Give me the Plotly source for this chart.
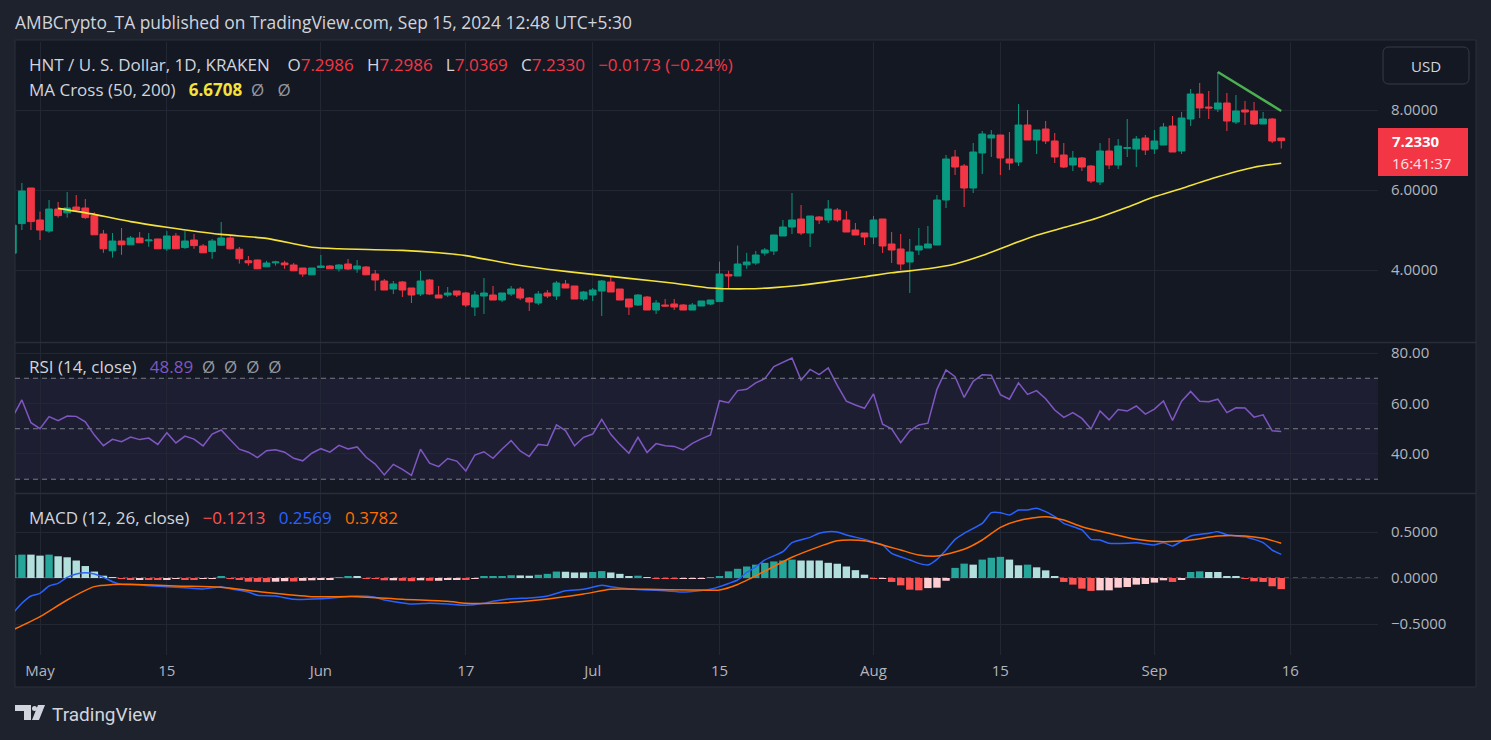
import plotly.graph_objects as go
import pandas as pd

# ---------------- DATA ----------------
dates = pd.date_range("2024-04-28", "2024-09-15", freq="D")

opens = [4.42, 5.16, 6.05, 5.25, 4.975, 5.525, 5.43, 5.575, 5.55, 5.36, 4.9, 4.48, 4.725, 4.63, 4.8, 4.73, 4.775, 4.53, 4.85, 4.56, 4.75, 4.6, 4.46, 4.62, 4.8, 4.52, 4.23, 4.25, 4.08, 4.18, 4.175, 4.125, 4.05, 3.88, 4.06, 4.1, 4.03, 4.15, 4.025, 4.075, 3.9,
         3.725, 3.525, 3.7, 3.55, 3.4, 3.75, 3.375, 3.375, 3.475, 3.425, 3.075, 3.35, 3.375, 3.25, 3.4, 3.525, 3.3, 3.175, 3.425, 3.35, 3.65, 3.6, 3.275, 3.375, 3.475, 3.7, 3.525, 3.275, 3.125, 3.325, 3.0, 3.125, 3.15, 3.125, 3.0, 3.1, 3.15,
         3.21, 3.89, 3.85, 4.13, 4.175, 4.425, 4.475, 4.85, 5.075, 5.275, 4.925, 5.325, 5.25, 5.5, 5.25, 5.0, 4.925, 4.825, 5.275, 4.65, 4.525, 4.2, 4.5, 4.55, 4.625,
         5.75, 6.825, 6.6, 6.05, 6.925, 7.3, 7.375, 6.775, 6.7, 7.625, 7.25, 7.525, 7.225, 6.875, 6.625, 6.8, 6.6, 6.2, 6.975, 6.625, 7.04, 7.025, 7.3,
         7.025, 7.125, 7.6, 6.975, 7.775, 8.4, 8.075, 8.025, 8.175, 7.7, 8.0, 7.975, 7.65, 7.775, 7.2986]
highs = [5.15, 6.175, 6.05, 5.46, 5.75, 5.7, 5.95, 5.875, 5.775, 5.44, 5.0, 4.925, 5.05, 4.85, 4.95, 4.925, 4.78, 4.975, 4.925, 4.975, 4.9, 4.65, 4.775, 5.2, 4.875, 4.575, 4.35, 4.26, 4.23, 4.23, 4.23, 4.175, 4.05, 4.05, 4.375, 4.125, 4.15, 4.275, 4.25, 4.1, 4.0,
         3.775, 3.725, 3.725, 3.55, 3.975, 3.775, 3.6, 3.575, 3.475, 3.45, 3.475, 3.8, 3.6, 3.425, 3.6, 3.575, 3.325, 3.475, 3.5, 3.725, 3.75, 3.6, 3.475, 3.55, 3.75, 3.825, 3.525, 3.275, 3.4, 3.35, 3.25, 3.275, 3.275, 3.15, 3.175, 3.225, 3.25,
         4.21, 3.98, 4.61, 4.43, 4.475, 4.55, 4.875, 5.25, 5.925, 5.625, 5.35, 5.35, 5.75, 5.55, 5.475, 5.175, 4.925, 5.35, 5.275, 4.95, 4.9, 4.775, 5.05, 5.1, 5.875,
         6.875, 7.0, 6.65, 7.175, 7.475, 7.5, 7.375, 7.45, 8.15, 8.0, 7.5, 7.725, 7.425, 7.175, 6.975, 6.825, 6.625, 7.175, 7.3, 7.275, 7.775, 7.35, 7.375,
         7.5, 7.675, 7.85, 7.95, 8.525, 8.675, 8.475, 8.95, 8.425, 8.375, 8.225, 8.2, 7.95, 7.8, 7.2986]
lows = [4.40, 5.0, 5.0, 4.75, 4.93, 5.31, 5.31, 5.46, 5.275, 4.88, 4.43, 4.31, 4.38, 4.63, 4.68, 4.58, 4.53, 4.48, 4.53, 4.53, 4.53, 4.43, 4.28, 4.6, 4.51, 4.16, 4.11, 4.03, 4.08, 4.11, 4.03, 3.98, 3.83, 3.88, 4.06, 4.03, 3.96, 4.0, 3.93, 3.88, 3.48,
        3.5, 3.4, 3.325, 3.175, 3.35, 3.375, 3.3, 3.325, 3.325, 3.075, 2.85, 2.9, 3.25, 3.2, 3.35, 3.25, 2.975, 3.125, 3.3, 3.25, 3.55, 3.275, 3.225, 3.225, 2.85, 3.45, 3.25, 2.875, 3.1, 3.0, 2.9, 3.075, 3.0, 3.0, 3.0, 3.1, 3.125,
        3.21, 3.53, 3.85, 4.03, 4.13, 4.36, 4.375, 4.85, 4.9, 4.875, 4.575, 5.15, 5.175, 5.2, 4.95, 4.875, 4.625, 4.65, 4.425, 4.175, 4.0, 3.425, 4.375, 4.55, 4.625,
        5.55, 6.375, 5.575, 5.925, 6.4, 6.825, 6.375, 6.5, 6.6, 7.25, 6.9, 7.15, 6.675, 6.55, 6.475, 6.475, 6.175, 6.125, 6.525, 6.525, 6.825, 6.575, 6.875,
        6.9, 7.125, 6.95, 6.9, 7.6, 7.8, 7.775, 7.95, 7.475, 7.65, 7.625, 7.625, 7.65, 7.175, 7.0369]
closes = [5.12, 5.975, 5.21, 5.0, 5.525, 5.36, 5.55, 5.5, 5.31, 4.88, 4.53, 4.725, 4.63, 4.8, 4.68, 4.75, 4.53, 4.85, 4.53, 4.725, 4.61, 4.43, 4.725, 4.8, 4.53, 4.28, 4.18, 4.03, 4.175, 4.2, 4.13, 3.98, 3.9, 4.05, 4.1, 4.03, 4.125, 4.025, 4.1, 3.88, 3.75,
          3.5, 3.65, 3.5, 3.375, 3.725, 3.4, 3.3, 3.425, 3.375, 3.125, 3.375, 3.425, 3.25, 3.425, 3.525, 3.3, 3.2, 3.4, 3.35, 3.675, 3.55, 3.275, 3.45, 3.5, 3.725, 3.45, 3.25, 3.075, 3.375, 3.0, 3.175, 3.1, 3.075, 3.0, 3.125, 3.225, 3.25,
          3.9, 3.85, 4.15, 4.2, 4.375, 4.5, 4.875, 5.075, 5.25, 4.925, 5.35, 5.25, 5.525, 5.25, 4.95, 4.875, 4.825, 5.25, 4.6, 4.5, 4.15, 4.45, 4.6, 4.65, 5.75,
          6.775, 6.575, 6.05, 6.95, 7.4, 7.375, 6.8, 6.675, 7.625, 7.25, 7.5, 7.225, 6.825, 6.575, 6.8, 6.575, 6.225, 6.975, 6.625, 7.1, 7.06, 7.275, 7.0,
          7.225, 7.575, 6.95, 7.8, 8.4, 8.05, 8.05, 8.175, 7.725, 7.975, 7.95, 7.65, 7.775, 7.225, 7.2330]

ma_dates = ["2024-05-03", "2024-05-07", "2024-05-11", "2024-05-15", "2024-05-21", "2024-05-26", "2024-05-31",
            "2024-06-03", "2024-06-10", "2024-06-14", "2024-06-17", "2024-06-22", "2024-06-26", "2024-07-01",
            "2024-07-05", "2024-07-10", "2024-07-14", "2024-07-18", "2024-07-21", "2024-07-24", "2024-07-27",
            "2024-07-31", "2024-08-03", "2024-08-07", "2024-08-10", "2024-08-13", "2024-08-16", "2024-08-19",
            "2024-08-22", "2024-08-25", "2024-08-29", "2024-09-01", "2024-09-04", "2024-09-08", "2024-09-12",
            "2024-09-15"]
ma_vals = [5.54, 5.39, 5.21, 5.07, 4.89, 4.79, 4.57,
           4.53, 4.49, 4.43, 4.36, 4.15, 4.02, 3.89,
           3.79, 3.67, 3.55, 3.53, 3.56, 3.62, 3.71,
           3.83, 3.93, 4.03, 4.15, 4.36, 4.62, 4.87,
           5.06, 5.25, 5.57, 5.83, 6.04, 6.33, 6.57,
           6.6708]

trend_dates = ["2024-09-08", "2024-09-15"]
trend_vals = [8.95, 7.975]

rsi = [54.8, 61.4, 52.4, 50.0, 54.8, 53.2, 55.0, 54.9, 52.7, 47.5, 43.3, 45.8, 44.9, 46.7, 45.7, 46.3, 43.8, 48.4, 44.4, 47.1,
       45.9, 43.2, 47.9, 49.5, 45.6, 41.9, 40.7, 38.6, 41.3, 41.7, 40.7, 38.3, 37.3, 40.3, 42.1, 40.7, 43.4, 42.0, 42.8, 38.7,
       36.0, 31.7, 35.9, 33.9, 31.5, 41.9, 36.4, 35.0, 38.2, 37.2, 33.3, 39.6, 40.9, 38.3, 42.0, 45.3, 41.2, 39.0, 43.8, 43.4,
       51.5, 49.3, 43.2, 46.6, 47.9, 53.7, 47.8, 43.8, 40.3, 46.6, 40.6, 44.1, 43.3, 43.0, 41.6, 44.2, 46.0,
       47.5,
       61.1, 60.3, 65.1, 65.6, 68.2, 69.8, 74.6, 76.4, 78.0, 69.3, 73.5, 71.4, 74.1, 67.2, 60.9, 59.4, 58.1,
       63.8, 51.8, 50.0, 44.5, 49.2, 51.5, 52.2, 65.6, 73.3, 70.6, 62.4, 68.8, 71.4, 71.2, 63.5, 61.7, 68.2, 63.6, 65.1, 61.9,
       57.4, 54.5, 56.4, 54.1, 49.9, 57.0, 53.5, 57.6, 57.0, 59.0, 55.8,
       57.8, 61.0, 53.3, 60.9, 64.8, 60.9, 60.7, 61.7, 56.4, 58.3, 58.2, 54.6, 55.5, 49.2, 48.89]

hist = [0.25, 0.254, 0.254, 0.243, 0.254, 0.236, 0.225, 0.19, 0.13, 0.07, 0.025, 0.007, -0.007, -0.015, -0.012, -0.015,
        -0.02, -0.012, -0.01, -0.014, -0.016, -0.01, -0.005, 0.012, -0.005, -0.02, -0.04, -0.042, -0.045, -0.04, -0.035,
        -0.038, -0.03, -0.025, -0.02, -0.012, 0.01, 0.015, 0.012, -0.004, -0.01, -0.025, -0.025, -0.03, -0.035, -0.025,
        -0.03, -0.03, -0.02, -0.015, -0.02, -0.005, 0.012, 0.015, 0.02, 0.03, 0.028, 0.025, 0.035, 0.045, 0.07, 0.068,
        0.06, 0.06, 0.065, 0.075, 0.06, 0.045, 0.02, 0.025, 0.005, -0.005, -0.008, -0.01, -0.01,
        -0.005, -0.005, 0.005, 0.02, 0.072, 0.10, 0.125, 0.145, 0.165, 0.18, 0.19, 0.2, 0.19, 0.19, 0.19, 0.165, 0.155,
        0.125, 0.085, 0.036,
        -0.007, -0.007, -0.043, -0.08, -0.127, -0.134, -0.11, -0.105, -0.03, 0.11, 0.156, 0.145, 0.2, 0.22, 0.23, 0.2,
        0.138, 0.145, 0.116, 0.083, 0.02, -0.043, -0.072, -0.116, -0.14, -0.134, -0.134, -0.105, -0.098, -0.072, -0.065,
        -0.05, -0.025, -0.043, -0.015, 0.065, 0.072, 0.065, 0.065, 0.022, 0.011, -0.007, -0.036, -0.043, -0.09, -0.1213]

macd_dates = ["2024-04-28", "2024-04-29", "2024-04-30", "2024-05-01", "2024-05-02", "2024-05-03", "2024-05-04", "2024-05-05",
              "2024-05-06", "2024-05-07", "2024-05-08", "2024-05-09", "2024-05-10", "2024-05-12", "2024-05-14", "2024-05-16",
              "2024-05-17", "2024-05-19", "2024-05-21", "2024-05-22", "2024-05-24", "2024-05-25", "2024-05-27", "2024-05-29",
              "2024-06-01", "2024-06-03", "2024-06-05", "2024-06-07", "2024-06-08", "2024-06-11", "2024-06-13", "2024-06-15",
              "2024-06-17", "2024-06-19", "2024-06-20", "2024-06-22", "2024-06-24", "2024-06-26", "2024-06-28", "2024-06-30",
              "2024-07-02", "2024-07-03", "2024-07-05", "2024-07-07", "2024-07-09", "2024-07-11", "2024-07-13", "2024-07-14",
              "2024-07-15", "2024-07-16", "2024-07-17", "2024-07-18", "2024-07-19", "2024-07-20", "2024-07-22", "2024-07-23",
              "2024-07-25", "2024-07-26", "2024-07-27", "2024-07-28", "2024-07-29", "2024-07-31", "2024-08-01", "2024-08-02",
              "2024-08-03", "2024-08-05", "2024-08-06", "2024-08-07", "2024-08-08", "2024-08-09", "2024-08-10", "2024-08-11",
              "2024-08-13", "2024-08-14", "2024-08-15", "2024-08-16", "2024-08-17", "2024-08-18", "2024-08-19", "2024-08-20",
              "2024-08-21", "2024-08-22", "2024-08-24", "2024-08-25", "2024-08-26", "2024-08-27", "2024-08-29", "2024-08-30",
              "2024-09-01", "2024-09-02", "2024-09-03", "2024-09-05", "2024-09-07", "2024-09-08", "2024-09-09", "2024-09-10",
              "2024-09-11", "2024-09-13", "2024-09-14", "2024-09-15"]
macd_vals = [-0.384, -0.275, -0.196, -0.167, -0.087, -0.058, 0.007, 0.043,
             0.058, 0.043, 0.007, -0.040, -0.069, -0.076, -0.09, -0.1,
             -0.105, -0.12, -0.094, -0.116, -0.152, -0.188, -0.196, -0.232,
             -0.225, -0.21, -0.196, -0.21, -0.239, -0.283, -0.275, -0.283,
             -0.297, -0.275, -0.254, -0.225, -0.217, -0.196, -0.138, -0.123,
             -0.080, -0.094, -0.116, -0.130, -0.138, -0.152, -0.135, -0.123,
             -0.094, -0.06, -0.022, 0.06, 0.12, 0.196, 0.286, 0.384,
             0.442, 0.486, 0.504, 0.50, 0.467, 0.420, 0.39, 0.359,
             0.268, 0.196, 0.159, 0.141, 0.203, 0.304, 0.420, 0.486,
             0.594, 0.710, 0.710, 0.685, 0.739, 0.739, 0.757, 0.721,
             0.667, 0.594, 0.522, 0.420, 0.413, 0.377, 0.377, 0.384,
             0.359, 0.384, 0.348, 0.457, 0.486, 0.504, 0.47, 0.457,
             0.449, 0.384, 0.304, 0.2569]

signal_dates = ["2024-04-28", "2024-05-01", "2024-05-04", "2024-05-07", "2024-05-09", "2024-05-11", "2024-05-16", "2024-05-21",
                "2024-05-26", "2024-05-31", "2024-06-05", "2024-06-10", "2024-06-15", "2024-06-17", "2024-06-20", "2024-06-25",
                "2024-06-30", "2024-07-03", "2024-07-07", "2024-07-12", "2024-07-15", "2024-07-17", "2024-07-20", "2024-07-23",
                "2024-07-26", "2024-07-28", "2024-07-31", "2024-08-02", "2024-08-04", "2024-08-06", "2024-08-08", "2024-08-11",
                "2024-08-13", "2024-08-15", "2024-08-17", "2024-08-20", "2024-08-22", "2024-08-24", "2024-08-27", "2024-08-30",
                "2024-09-02", "2024-09-05", "2024-09-08", "2024-09-11", "2024-09-13", "2024-09-15"]
signal_vals = [-0.565, -0.42, -0.239, -0.094, -0.072, -0.069, -0.087, -0.1,
               -0.159, -0.203, -0.203, -0.232, -0.254, -0.275, -0.275, -0.239,
               -0.174, -0.123, -0.123, -0.13, -0.13, -0.07, 0.075, 0.225,
               0.341, 0.406, 0.406, 0.359, 0.304, 0.25, 0.239, 0.312,
               0.413, 0.551, 0.623, 0.667, 0.630, 0.558, 0.486, 0.42,
               0.395, 0.413, 0.457, 0.457, 0.431, 0.3782]

x_tick_dates = ["2024-05-01", "2024-05-15", "2024-06-01", "2024-06-17", "2024-07-01",
                "2024-07-15", "2024-08-01", "2024-08-15", "2024-09-01", "2024-09-16"]
x_tick_text = ["May", "15", "Jun", "17", "Jul", "15", "Aug", "15", "Sep", "16"]
price_ticks = [4, 6, 8]
price_tick_text = ["4.0000", "6.0000", "8.0000"]
rsi_ticks = [40, 60, 80]
rsi_tick_text = ["40.00", "60.00", "80.00"]
macd_ticks = [-0.5, 0, 0.5]
macd_tick_text = ["\u22120.5000", "0.0000", "0.5000"]

# ---------------- STYLE ----------------
W, H = 1491, 740
L, R, T, B = 15, 1378, 42, 655
FONT = "'Open Sans', Roboto, sans-serif"
LOGO_FONT = "Roboto, sans-serif"
UP, DN = "#089981", "#f23645"
GRID = "#232733"
TXT = "#d1d4dc"
AX = "#b2b5be"


def px(x):
    return (x - L) / (R - L)


def py(y):
    return (B - y) / (B - T)


hist_colors = []
prev = None
for v in hist:
    if v >= 0:
        c = "#26a69a" if (prev is None or v > prev) else "#b2dfdb"
    else:
        c = "#ff5252" if (prev is None or v < prev) else "#ffcdd2"
    hist_colors.append(c)
    prev = v

fig = go.Figure()
fig.add_trace(go.Candlestick(
    x=dates, open=opens, high=highs, low=lows, close=closes,
    increasing=dict(line=dict(color=UP, width=1), fillcolor=UP),
    decreasing=dict(line=dict(color=DN, width=1), fillcolor=DN),
    whiskerwidth=0, hoverinfo="skip", showlegend=False, xaxis="x", yaxis="y"))
fig.add_trace(go.Scatter(x=ma_dates, y=ma_vals, mode="lines", xaxis="x", yaxis="y",
                         line=dict(color="#f5e33c", width=1.6, shape="spline", smoothing=0.6),
                         hoverinfo="skip", showlegend=False))
fig.add_trace(go.Scatter(x=trend_dates, y=trend_vals, mode="lines", xaxis="x", yaxis="y",
                         line=dict(color="#4caf50", width=2.5), hoverinfo="skip", showlegend=False))
fig.add_trace(go.Scatter(x=dates, y=rsi, mode="lines", xaxis="x", yaxis="y2",
                         line=dict(color="#7e57c2", width=1.5), hoverinfo="skip", showlegend=False))
fig.add_trace(go.Bar(x=dates, y=hist, marker=dict(color=hist_colors, line=dict(width=0)), xaxis="x", yaxis="y3",
                     hoverinfo="skip", showlegend=False))
fig.add_trace(go.Scatter(x=macd_dates, y=macd_vals, mode="lines", xaxis="x", yaxis="y3",
                         line=dict(color="#2962ff", width=1.5, shape="spline", smoothing=0.5),
                         hoverinfo="skip", showlegend=False))
fig.add_trace(go.Scatter(x=signal_dates, y=signal_vals, mode="lines", xaxis="x", yaxis="y3",
                         line=dict(color="#ff6d00", width=1.5, shape="spline", smoothing=0.7),
                         hoverinfo="skip", showlegend=False))

yax_common = dict(side="right", showgrid=True, gridcolor=GRID, gridwidth=1, zeroline=False, showline=False,
                  ticks="", ticklabelstandoff=12, tickfont=dict(family=FONT, size=15, color=AX), fixedrange=True)

shapes = [
    dict(type="rect", xref="paper", yref="paper", x0=px(15), x1=px(1476), y0=py(687), y1=py(40),
         fillcolor="#141823", line=dict(color="#2a2e39", width=1), layer="below"),
    dict(type="line", xref="paper", yref="paper", x0=px(15), x1=px(1476), y0=py(342.5), y1=py(342.5),
         line=dict(color="#2a2e39", width=1.5)),
    dict(type="line", xref="paper", yref="paper", x0=px(15), x1=px(1476), y0=py(493.5), y1=py(493.5),
         line=dict(color="#2a2e39", width=1.5)),
    dict(type="rect", xref="paper", yref="y2", x0=0, x1=1, y0=30, y1=70,
         fillcolor="rgba(126,87,194,0.10)", line=dict(width=0), layer="below"),
]
for lvl in (70, 50, 30):
    shapes.append(dict(type="line", xref="paper", yref="y2", x0=0, x1=1, y0=lvl, y1=lvl,
                       line=dict(color="#787b86", width=1, dash="5px,4px")))
shapes.append(dict(type="line", xref="paper", yref="y3", x0=0, x1=1, y0=0, y1=0,
                   line=dict(color="#787b86", width=1, dash="5px,4px"), layer="below"))
shapes.append(dict(type="rect", xref="paper", yref="paper", x0=px(1378), x1=px(1468), y0=py(176), y1=py(128),
                   fillcolor="#f23645", line=dict(width=0)))
rx, ry = 6 / (R - L), 6 / (B - T)
ux0, ux1, uy0, uy1 = px(1383), px(1469), py(84), py(47)
usd_path = (f"M {ux0+rx},{uy0} L {ux1-rx},{uy0} Q {ux1},{uy0} {ux1},{uy0+ry} L {ux1},{uy1-ry} "
            f"Q {ux1},{uy1} {ux1-rx},{uy1} L {ux0+rx},{uy1} Q {ux0},{uy1} {ux0},{uy1-ry} "
            f"L {ux0},{uy0+ry} Q {ux0},{uy0} {ux0+rx},{uy0} Z")
shapes.append(dict(type="path", xref="paper", yref="paper", path=usd_path,
                   fillcolor="#141823", line=dict(color="#363a45", width=1)))
shapes.append(dict(type="path", xref="paper", yref="paper",
                   path=f"M {px(15)},{py(705)} L {px(31)},{py(705)} L {px(31)},{py(720)} L {px(24)},{py(720)} "
                        f"L {px(24)},{py(711)} L {px(15)},{py(711)} Z",
                   fillcolor=TXT, line=dict(width=0)))
shapes.append(dict(type="circle", xref="paper", yref="paper", x0=px(32), x1=px(37), y0=py(711), y1=py(706),
                   fillcolor=TXT, line=dict(width=0)))
shapes.append(dict(type="path", xref="paper", yref="paper",
                   path=f"M {px(38)},{py(705)} L {px(45)},{py(705)} L {px(39)},{py(720)} L {px(32)},{py(720)} Z",
                   fillcolor=TXT, line=dict(width=0)))


def ann(x, y, text, size=15, color=TXT, xanchor="left", family=FONT):
    return dict(x=px(x), y=py(y), xref="paper", yref="paper", text=text, showarrow=False,
                xanchor=xanchor, yanchor="middle", font=dict(family=family, size=size, color=color))


NB = "\u00a0"
G = NB * 3
G2 = NB * 2
red = lambda s: f'<span style="color:#f23645">{s}</span>'
line1 = ("HNT / U. S. Dollar, 1D, KRAKEN" + NB * 4 + "O" + red("7.2986") + G + "H" + red("7.2986") + G +
         "L" + red("7.0369") + G + "C" + red("7.2330") + G + red("\u22120.0173 (\u22120.24%)"))
line2 = ("MA Cross (50, 200)" + G + '<span style="color:#f5e33c"><b>6.6708</b></span>' + G2 +
         '<span style="color:#9598a1">\u00d8' + G + '\u00d8</span>')
rsi_leg = ("RSI (14, close)" + G + '<span style="color:#7e57c2">48.89</span>' + G2 +
           '<span style="color:#9598a1">\u00d8' + G2 + "\u00d8" + G2 + "\u00d8" + G2 + "\u00d8</span>")
macd_leg = ("MACD (12, 26, close)" + G + '<span style="color:#ff5252">\u22120.1213</span>' + G +
            '<span style="color:#2962ff">0.2569</span>' + G + '<span style="color:#ff6d00">0.3782</span>')

annotations = [
    ann(13, 22, "AMBCrypto_TA published on TradingView.com, Sep 15, 2024 12:48 UTC+5:30", size=17.4, color=TXT),
    ann(27, 64, line1, size=17),
    ann(27, 89, line2, size=17),
    ann(27, 366, rsi_leg, size=17),
    ann(27, 517, macd_leg, size=17),
    ann(1390, 141, "<b>7.2330</b>", size=15, color="#ffffff"),
    ann(1390, 163, "16:41:37", size=15, color="#fde3e5"),
    ann(1426, 66, "USD", size=15, color=TXT, xanchor="center"),
    ann(50, 714, "TradingView", size=19, color=TXT, family=LOGO_FONT),
]

fig.update_layout(
    width=W, height=H,
    margin=dict(l=L, r=W - R, t=T, b=H - B, pad=0),
    paper_bgcolor="#1e222d", plot_bgcolor="rgba(0,0,0,0)",
    font=dict(family=FONT, color=AX),
    showlegend=False, hovermode=False, dragmode=False,
    bargap=0.18, boxgap=0.25, boxgroupgap=0,
    xaxis=dict(domain=[0, 1], anchor="y3", type="date",
               range=["2024-04-28 05:47", "2024-09-25 16:19"],
               tickvals=x_tick_dates, ticktext=x_tick_text, ticks="", ticklabelstandoff=5,
               tickfont=dict(family=FONT, size=15, color=AX),
               showgrid=True, gridcolor=GRID, zeroline=False, showline=False,
               rangeslider=dict(visible=False), fixedrange=True),
    yaxis=dict(domain=[py(342), 1], range=[2.2, 9.7], tickvals=price_ticks, ticktext=price_tick_text, **yax_common),
    yaxis2=dict(domain=[py(493), py(343)], range=[24.55, 83.96], tickvals=rsi_ticks, ticktext=rsi_tick_text,
                **yax_common),
    yaxis3=dict(domain=[0, py(494)], range=[-0.837, 0.913], tickvals=macd_ticks, ticktext=macd_tick_text,
                **yax_common),
    shapes=shapes,
    annotations=annotations,
)

assert len(opens) == len(highs) == len(lows) == len(closes) == len(dates) == len(rsi) == len(hist)

fig.write_html("out.html", config={"displayModeBar": False},
               post_script="document.body.style.margin='0';document.body.style.background='#1e222d';")
